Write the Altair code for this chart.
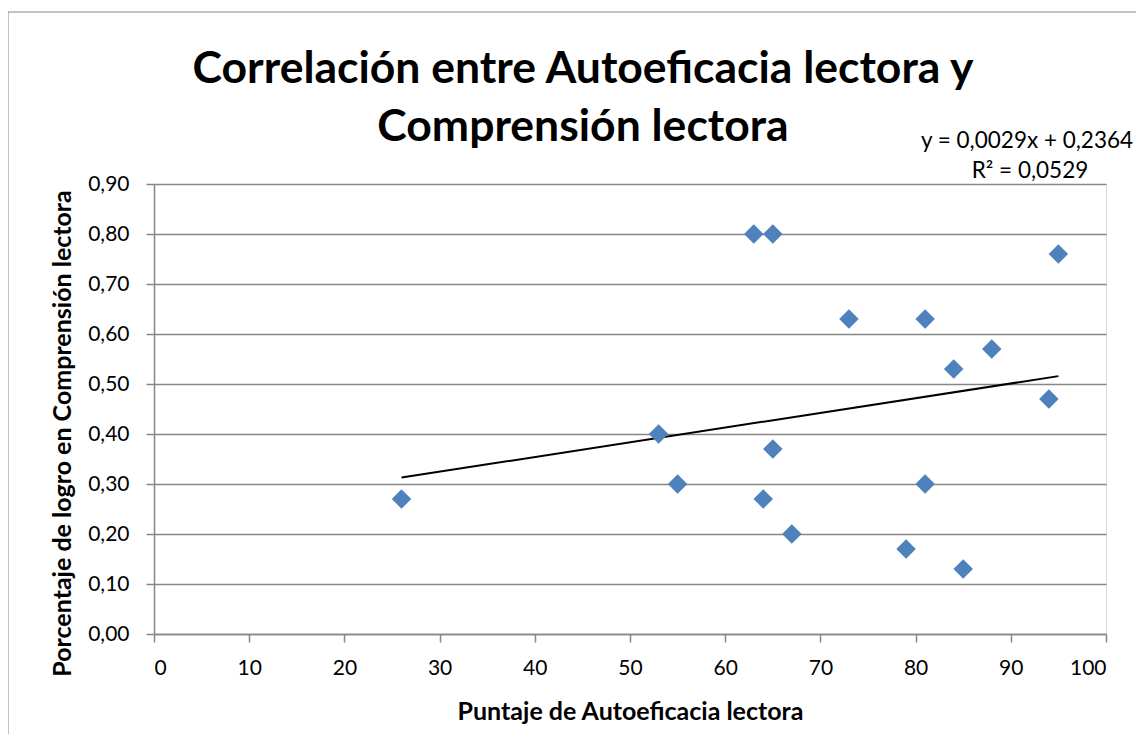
import altair as alt
import pandas as pd

# ---- data ----
x_vals = [26, 53, 55, 63, 64, 65, 65, 67, 73, 79, 81, 81, 84, 85, 88, 94, 95]
y_vals = [0.27, 0.40, 0.30, 0.80, 0.27, 0.80, 0.37, 0.20, 0.63, 0.17, 0.63, 0.30,
          0.53, 0.13, 0.57, 0.47, 0.76]
x_ticks = [0, 10, 20, 30, 40, 50, 60, 70, 80, 90, 100]
y_ticks = [0.0, 0.1, 0.2, 0.3, 0.4, 0.5, 0.6, 0.7, 0.8, 0.9]
title_lines = ["Correlación entre Autoeficacia lectora y", "Comprensión lectora"]
x_title = "Puntaje de Autoeficacia lectora"
y_title = "Porcentaje de logro en Comprensión lectora"

df = pd.DataFrame({"x": x_vals, "y": y_vals})
one = pd.DataFrame({"k": [0]})

W, H = 952, 450
FONT = "Lato"
GRAY = "#878787"
BLUE = "#4F81BD"

xenc = alt.X(
    "x:Q",
    scale=alt.Scale(domain=[0, 100], nice=False, zero=True),
    axis=alt.Axis(
        values=x_ticks, format="d", grid=False, title=x_title,
        titleX=W / 2, titleY=77, titleAlign="center", titleBaseline="middle",
        titleFont=FONT, titleFontSize=25, titleFontWeight="bold", titleColor="black",
        labelFont=FONT, labelFontSize=21, labelColor="black", labelPadding=15,
        tickSize=8, tickColor=GRAY, tickWidth=1.5, domainColor=GRAY, domainWidth=1.5,
    ),
)
yenc = alt.Y(
    "y:Q",
    scale=alt.Scale(domain=[0, 0.9], nice=False, zero=True),
    axis=alt.Axis(
        values=y_ticks, grid=True, gridColor=GRAY, gridWidth=1.5,
        labelExpr="replace(format(datum.value, '.2f'), '.', ',')",
        title=y_title, titleX=-92, titleY=249, titleAngle=-90,
        titleAlign="center", titleBaseline="middle",
        titleFont=FONT, titleFontSize=25, titleFontWeight="bold", titleColor="black",
        labelFont=FONT, labelFontSize=21, labelColor="black", labelPadding=17,
        tickSize=8, tickColor=GRAY, tickWidth=1.5, domainColor=GRAY, domainWidth=1.5,
    ),
)

points = alt.Chart(df).mark_point(
    shape="diamond", filled=True, size=380, color=BLUE, opacity=1
).encode(x=xenc, y=yenc)

trend = alt.Chart(df).transform_regression("x", "y").mark_line(
    color="black", strokeWidth=2
).encode(x="x:Q", y="y:Q")

params = alt.Chart(df).transform_regression("x", "y", params=True).transform_calculate(
    eq="'y = ' + replace(format(datum.coef[1], '.4f'), '.', ',') + 'x + ' + replace(format(datum.coef[0], '.4f'), '.', ',')",
    r2="'R² = ' + replace(format(datum.rSquared, '.4f'), '.', ',')",
)
eq_text = params.mark_text(font=FONT, fontSize=22.5, color="black", align="center", baseline="middle").encode(
    x=alt.value(873), y=alt.value(-43), text="eq:N"
)
r2_text = params.mark_text(font=FONT, fontSize=22.5, color="black", align="center", baseline="middle").encode(
    x=alt.value(876), y=alt.value(-13), text="r2:N"
)

frame_left = alt.Chart(one).mark_rule(color=GRAY, strokeWidth=1).encode(
    x=alt.value(-146), y=alt.value(-172), y2=alt.value(H + 140)
)
frame_top = alt.Chart(one).mark_rule(color=GRAY, strokeWidth=1).encode(
    x=alt.value(-146), x2=alt.value(W + 60), y=alt.value(-172)
)

chart = alt.layer(frame_left, frame_top, trend, points, eq_text, r2_text).properties(
    width=W,
    height=H,
    title=alt.Title(
        text=title_lines, font=FONT, fontSize=44.5, fontWeight="bold", color="black",
        anchor="middle", dx=-47, dy=139, lineHeight=58, offset=0,
    ),
    autosize=alt.AutoSizeParams(type="none"),
    padding={"left": 146, "top": 176, "right": 30, "bottom": 100},
).configure_view(stroke=None).configure(background="white")

chart.save("out.html", embed_options={"renderer": "svg", "actions": False})
